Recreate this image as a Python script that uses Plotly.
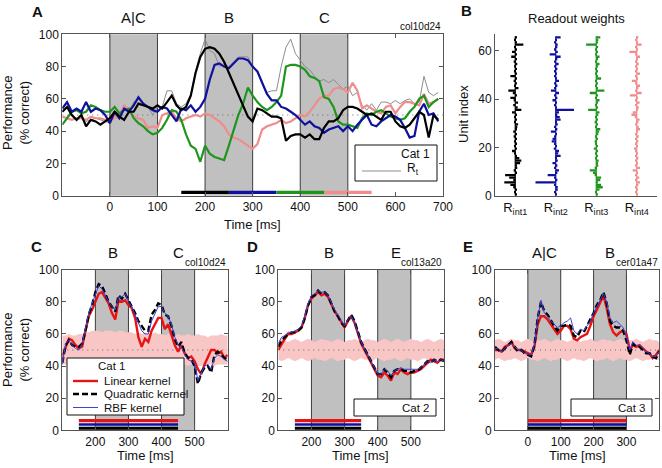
import plotly.graph_objects as go

W, H = 662, 468
FONT = "Liberation Sans, Arial, Helvetica, sans-serif"

def px(x):
    return x / W

def py(y):
    return 1 - y / H

# ---------------- Panel A data (time in ms, performance in % correct) ----------------
time_a = list(range(-100, 700, 10))
perf_rint1 = [52, 55, 50, 47, 50, 43, 47, 46, 44, 46,
              48, 52, 49, 47, 52, 52, 57, 56, 55, 54,
              56, 54, 58, 62, 56, 53, 55, 62, 76, 86,
              91, 92, 91, 88, 83, 76, 70, 62, 56, 49,
              46, 54, 53, 51, 49, 49, 48, 34, 37, 38,
              38, 36, 38, 35, 35, 42, 46, 46, 48, 53,
              55, 55, 54, 52, 50, 51, 49, 47, 52, 52,
              46, 43, 42, 44, 48, 52, 50, 36, 50, 47]
perf_rint2 = [54, 58, 52, 54, 52, 58, 52, 54, 53, 50,
              45, 52, 48, 54, 52, 56, 61, 57, 55, 53,
              52, 55, 54, 50, 46, 54, 53, 56, 52, 55,
              60, 72, 81, 82, 80, 79, 82, 85, 85, 84,
              80, 77, 70, 63, 59, 59, 55, 54, 52, 50,
              47, 44, 46, 43, 42, 39, 41, 42, 43, 40,
              43, 40, 44, 47, 50, 44, 43, 46, 48, 50,
              49, 47, 42, 36, 37, 52, 57, 50, 51, 46]
perf_rint3 = [44, 48, 52, 53, 51, 52, 56, 55, 53, 52,
              52, 55, 51, 53, 54, 48, 45, 43, 40, 38,
              39, 42, 47, 53, 52, 47, 38, 31, 29, 21,
              31, 26, 24, 23, 22, 31, 41, 50, 57, 67,
              62, 58, 55, 53, 55, 58, 62, 80, 81, 81,
              80, 78, 74, 73, 71, 61, 60, 55, 46, 44,
              44, 43, 42, 48, 51, 50, 52, 53, 51, 49,
              48, 47, 48, 52, 55, 60, 62, 55, 58, 60]
perf_rint4 = [49, 48, 47, 48, 48, 47, 49, 48, 48, 47,
              47, 48, 50, 56, 53, 49, 48, 47, 42, 43,
              42, 50, 51, 52, 48, 46, 48, 49, 50, 49,
              51, 50, 48, 46, 43, 38, 36, 35, 33, 31,
              29, 32, 41, 43, 44, 45, 47, 45, 46, 48,
              50, 49, 52, 56, 60, 62, 62, 66, 67, 66,
              64, 70, 65, 54, 56, 54, 52, 51, 55, 56,
              51, 55, 58, 58, 57, 56, 63, 57, 58, 60]
perf_rt = [52, 55, 50, 47, 48, 46, 47, 48, 47, 46,
           45, 50, 47, 54, 52, 58, 60, 58, 55, 50,
           55, 55, 65, 65, 57, 55, 57, 63, 77, 88,
           97, 90, 88, 80, 82, 80, 83, 86, 86, 86,
           80, 76, 70, 64, 65, 65, 80, 92, 97, 88,
           84, 80, 78, 74, 71, 72, 70, 72, 69, 66,
           68, 62, 64, 56, 53, 57, 53, 58, 58, 57,
           59, 57, 59, 60, 57, 58, 74, 64, 62, 64]
train_windows_a = [150, 250, 350, 450, 550]
stim_a = ["A|C", "B", "C"]
stim_a_pos = [50, 250, 450]
shade_a = [[0, 100], [200, 300], [400, 500]]
ticks_a = [0, 100, 200, 300, 400, 500, 600, 700]

# ---------------- Panel B data (readout weights per unit, in column units) ----------------
unit_index = list(range(1, 67))
w_int1 = [0.02, -0.03, 0.03, -0.05, -0.12, -0.27, -0.05, -0.15, -0.25, 0.03,
          -0.04, 0.05, 0.02, 0.12, 0.15, 0.10, 0.03, -0.03, -0.08, 0.02,
          -0.03, 0.04, -0.02, 0.03, -0.04, 0.02, -0.05, 0.03, 0.05, 0.07,
          -0.03, 0.03, -0.02, 0.04, -0.08, 0.15, 0.06, -0.05, 0.07, -0.04,
          -0.12, 0.03, -0.06, -0.17, 0.08, -0.03, 0.03, -0.04, 0.02, -0.12,
          0.03, -0.03, 0.04, -0.02, 0.05, -0.04, 0.03, -0.10, 0.04, -0.08,
          0.03, -0.03, 0.20, 0.04, -0.02, 0.02]
w_int2 = [0.02, -0.03, 0.05, 0.05, -0.02, -0.50, 0.04, -0.03, -0.20, 0.04,
          0.08, -0.03, 0.04, -0.08, 0.05, 0.03, 0.12, 0.06, 0.08, -0.05,
          0.03, -0.04, -0.10, -0.08, -0.03, 0.03, -0.12, 0.04, -0.03, 0.05,
          0.03, 0.12, 0.10, 0.04, 0.08, 0.45, 0.03, -0.04, 0.03, -0.08,
          0.04, -0.03, 0.08, -0.12, -0.03, 0.04, -0.03, 0.08, 0.03, -0.04,
          0.03, -0.03, 0.04, -0.02, 0.07, -0.03, 0.04, 0.12, -0.15, 0.05,
          -0.03, 0.04, 0.05, -0.03, 0.03, 0.12]
w_int3 = [0.02, -0.03, 0.08, 0.16, 0.12, 0.04, 0.10, 0.12, -0.04, -0.08,
          -0.16, -0.04, 0.05, 0.03, 0.06, -0.03, 0.04, -0.02, 0.03, -0.06,
          0.03, -0.02, -0.04, 0.03, -0.02, 0.05, 0.07, 0.10, -0.03, 0.04,
          -0.04, 0.03, -0.02, 0.05, 0.08, -0.20, 0.04, -0.03, 0.03, 0.08,
          -0.02, 0.04, -0.16, 0.20, 0.03, -0.03, 0.04, -0.02, 0.12, 0.03,
          -0.03, 0.04, -0.02, 0.03, 0.08, -0.03, 0.04, 0.08, -0.02, 0.03,
          -0.03, 0.04, -0.25, 0.03, 0.05, 0.10]
w_int4 = [0.02, -0.03, 0.03, -0.02, 0.04, 0.08, -0.03, 0.06, -0.02, 0.03,
          -0.10, 0.08, -0.04, 0.03, -0.02, 0.04, -0.03, 0.03, -0.04, -0.07,
          0.03, -0.02, 0.04, -0.03, 0.05, -0.04, 0.03, 0.08, 0.05, -0.03,
          0.04, 0.07, -0.05, -0.13, -0.10, 0.03, 0.05, -0.03, 0.07, -0.04,
          0.03, -0.17, 0.12, -0.03, 0.04, 0.08, -0.02, -0.12, 0.03, -0.04,
          0.08, -0.02, 0.03, -0.04, 0.05, -0.03, 0.03, 0.08, -0.04, -0.18,
          0.03, -0.03, 0.12, 0.03, -0.02, 0.04]
readout_labels = ["R<sub>int1</sub>", "R<sub>int2</sub>", "R<sub>int3</sub>", "R<sub>int4</sub>"]

# ---------------- Panel C data ----------------
time_c = list(range(100, 610, 10))
c_linear = [46, 52, 57, 56, 53, 51, 52, 62, 71, 75,
            80, 85, 86, 82, 79, 73, 69, 81, 80, 81,
            78, 76, 70, 58, 52, 57, 55, 62, 66, 70,
            70, 63, 66, 60, 53, 49, 53, 48, 45, 46,
            43, 38, 35, 41, 45, 50, 50, 48, 49, 45, 47]
c_quad = [42, 53, 56, 53, 52, 52, 54, 62, 72, 78,
          86, 91, 90, 85, 80, 77, 74, 84, 82, 85,
          81, 78, 73, 68, 65, 62, 62, 72, 75, 79,
          78, 72, 71, 65, 57, 52, 55, 48, 45, 44,
          40, 29, 36, 39, 40, 36, 47, 49, 47, 45, 44]
c_rbf = [41, 54, 56, 53, 51, 50, 54, 63, 73, 79,
         85, 90, 88, 84, 80, 77, 75, 83, 83, 85,
         80, 77, 72, 66, 62, 60, 60, 68, 73, 77,
         77, 73, 71, 66, 58, 53, 52, 47, 44, 43,
         42, 31, 35, 40, 41, 38, 45, 47, 46, 44, 43]
c_band_hi = [59, 59, 60, 59, 59, 60, 60, 61, 61, 62,
             62, 62, 61, 62, 62, 62, 61, 62, 62, 61,
             61, 61, 60, 61, 60, 61, 60, 60, 61, 60,
             60, 59, 60, 59, 59, 60, 59, 59, 60, 59,
             59, 60, 59, 59, 58, 59, 59, 59, 60, 59, 59]
c_band_lo = [41, 41, 40, 41, 41, 41, 40, 41, 41, 41,
             42, 41, 41, 41, 40, 41, 41, 41, 40, 41,
             41, 40, 41, 41, 40, 41, 42, 41, 41, 41,
             41, 42, 41, 41, 41, 42, 41, 41, 40, 41,
             41, 40, 40, 41, 41, 41, 40, 41, 41, 41, 41]
c_window = [150, 450]

# ---------------- Panel D data ----------------
time_d = list(range(100, 610, 10))
d_linear = [50, 54, 57, 60, 60, 61, 62, 64, 70, 78,
            82, 84, 86, 84, 85, 83, 78, 74, 71, 67,
            64, 68, 71, 67, 60, 54, 50, 46, 43, 38,
            34, 33, 36, 34, 31, 36, 35, 38, 36, 35,
            36, 36, 37, 38, 40, 42, 44, 43, 42, 44, 44]
d_quad = [52, 56, 58, 60, 61, 61, 62, 64, 70, 78,
          83, 84, 87, 85, 86, 84, 79, 74, 71, 67,
          65, 69, 72, 68, 61, 55, 51, 47, 44, 39,
          35, 35, 38, 36, 33, 37, 38, 38, 37, 37,
          36, 37, 37, 39, 41, 43, 42, 44, 43, 44, 43]
d_rbf = [54, 58, 59, 61, 61, 62, 63, 65, 71, 79,
         84, 85, 87, 86, 86, 84, 79, 75, 72, 68,
         65, 69, 71, 67, 61, 55, 51, 47, 44, 39,
         35, 35, 38, 37, 34, 37, 38, 39, 38, 38,
         38, 38, 38, 39, 41, 43, 42, 44, 43, 44, 43]
d_band_hi = [56, 57, 56, 55, 56, 57, 56, 55, 56, 57,
             56, 55, 56, 57, 56, 56, 55, 56, 57, 56,
             55, 56, 56, 57, 56, 55, 56, 57, 56, 56,
             55, 56, 57, 56, 55, 56, 57, 56, 55, 56,
             57, 56, 56, 55, 56, 57, 56, 55, 56, 57, 56]
d_band_lo = [44, 43, 44, 45, 44, 43, 44, 45, 44, 43,
             44, 45, 44, 44, 43, 44, 45, 44, 43, 44,
             44, 45, 44, 43, 44, 45, 44, 44, 43, 44,
             45, 44, 43, 44, 44, 45, 44, 43, 44, 45,
             44, 44, 43, 44, 45, 44, 43, 44, 44, 45, 44]
d_window = [150, 350]

# ---------------- Panel E data ----------------
time_e = list(range(-100, 410, 10))
e_linear = [50, 50, 49, 52, 53, 55, 51, 50, 50, 49,
            48, 47, 52, 66, 71, 71, 69, 66, 63, 60,
            62, 65, 65, 63, 57, 56, 58, 59, 60, 65,
            71, 75, 80, 84, 76, 66, 61, 59, 61, 62,
            60, 50, 53, 52, 53, 51, 49, 48, 45, 47, 50]
e_quad = [52, 50, 49, 51, 53, 55, 52, 49, 50, 48,
          47, 46, 53, 70, 80, 74, 72, 68, 65, 62,
          65, 65, 66, 65, 59, 58, 62, 61, 65, 68,
          73, 78, 81, 86, 79, 68, 65, 64, 64, 62,
          56, 47, 54, 52, 52, 50, 48, 48, 46, 45, 49]
e_rbf = [51, 51, 49, 51, 53, 54, 52, 50, 50, 48,
         47, 47, 53, 70, 81, 73, 71, 68, 66, 64,
         65, 67, 68, 70, 62, 60, 63, 62, 65, 68,
         73, 77, 82, 85, 80, 70, 67, 68, 66, 64,
         58, 50, 55, 53, 53, 51, 49, 48, 46, 46, 49]
e_band_hi = [56, 57, 56, 55, 56, 57, 56, 56, 55, 56,
             57, 56, 55, 56, 56, 57, 56, 55, 56, 57,
             56, 56, 55, 56, 57, 56, 55, 56, 56, 57,
             56, 55, 56, 57, 56, 56, 55, 56, 57, 56,
             55, 56, 56, 57, 56, 55, 56, 57, 56, 56, 55]
e_band_lo = [44, 45, 44, 43, 44, 44, 45, 44, 43, 44,
             45, 44, 44, 43, 44, 45, 44, 43, 44, 44,
             45, 44, 43, 44, 45, 44, 44, 43, 44, 45,
             44, 43, 44, 44, 45, 44, 43, 44, 45, 44,
             44, 43, 44, 45, 44, 43, 44, 44, 45, 44, 44]
e_window = [0, 300]

# ---------------- colours ----------------
BLACK = "#000000"
BLUE = "#1010a0"
GREEN = "#1e961e"
PINK = "#f08c8c"
GRAYRT = "#8c8c8c"
RED = "#e81414"
RBF = "#4040d8"
BAND = "#f9c6c6"
SHADE = "#c0c0c0"
AXC = "#555555"
VLINE = "#3c3c3c"
DOTS = dict(color="#666666", width=1, dash="1px,4px")

fig = go.Figure()

# ---- Panel A traces
fig.add_trace(go.Scatter(x=[time_a[0], time_a[-1] + 10], y=[50, 50], mode="lines",
                         line=DOTS, xaxis="x", yaxis="y"))
fig.add_trace(go.Scatter(x=time_a, y=perf_rt, mode="lines", line=dict(color=GRAYRT, width=1),
                         xaxis="x", yaxis="y"))
for series, col in [(perf_rint4, PINK), (perf_rint3, GREEN), (perf_rint2, BLUE), (perf_rint1, BLACK)]:
    fig.add_trace(go.Scatter(x=time_a, y=series, mode="lines", line=dict(color=col, width=2.2),
                             xaxis="x", yaxis="y"))
for i, col in enumerate([BLACK, BLUE, GREEN, PINK]):
    fig.add_trace(go.Scatter(x=[train_windows_a[i], train_windows_a[i + 1]], y=[2, 2], mode="lines",
                             line=dict(color=col, width=3.2), xaxis="x", yaxis="y"))

# ---- Panel B traces: horizontal bars around each readout's column centre
for k, (wts, col) in enumerate([(w_int1, BLACK), (w_int2, BLUE), (w_int3, GREEN), (w_int4, PINK)]):
    fig.add_trace(go.Scatter(x=[k + 1, k + 1], y=[0, len(wts)], mode="lines",
                             line=dict(color=col, width=1.2), xaxis="x2", yaxis="y2"))
    fig.add_trace(go.Bar(x=wts, y=[u - 0.5 for u in unit_index], base=k + 1, orientation="h", width=0.95,
                         marker=dict(color=col, line=dict(width=0)), xaxis="x2", yaxis="y2"))

# ---- Panels C, D, E traces
panels = [
    ("x3", "y3", time_c, c_linear, c_quad, c_rbf, c_band_hi, c_band_lo, c_window),
    ("x4", "y4", time_d, d_linear, d_quad, d_rbf, d_band_hi, d_band_lo, d_window),
    ("x5", "y5", time_e, e_linear, e_quad, e_rbf, e_band_hi, e_band_lo, e_window),
]
for xa, ya, t, lin, quad, rbf, hi, lo, win in panels:
    fig.add_trace(go.Scatter(x=t, y=lo, mode="lines", line=dict(width=0, color=BAND),
                             xaxis=xa, yaxis=ya))
    fig.add_trace(go.Scatter(x=t, y=hi, mode="lines", line=dict(width=0, color=BAND),
                             fill="tonexty", fillcolor=BAND, xaxis=xa, yaxis=ya))
    fig.add_trace(go.Scatter(x=[t[0], t[-1]], y=[50, 50], mode="lines",
                             line=DOTS, xaxis=xa, yaxis=ya))
    fig.add_trace(go.Scatter(x=t, y=lin, mode="lines", line=dict(color=RED, width=2.4),
                             xaxis=xa, yaxis=ya))
    fig.add_trace(go.Scatter(x=t, y=quad, mode="lines", line=dict(color=BLACK, width=2.4, dash="6px,3px"),
                             xaxis=xa, yaxis=ya))
    fig.add_trace(go.Scatter(x=t, y=rbf, mode="lines", line=dict(color=RBF, width=1),
                             xaxis=xa, yaxis=ya))
    for yv, col, wd in [(6, RED, 3.4), (3.6, BLUE, 2.6), (1.3, BLACK, 3.0)]:
        fig.add_trace(go.Scatter(x=win, y=[yv, yv], mode="lines", line=dict(color=col, width=wd),
                                 xaxis=xa, yaxis=ya))

fig.update_traces(hoverinfo="skip", showlegend=False)

# ---- shapes: shading and vertical separators
shapes = []
def shade(xref, yref, intervals, lines):
    for a, b in intervals:
        shapes.append(dict(type="rect", xref=xref, yref=yref + " domain", x0=a, x1=b, y0=0, y1=1,
                           fillcolor=SHADE, line=dict(width=0), layer="below"))
    for v in lines:
        shapes.append(dict(type="line", xref=xref, yref=yref + " domain", x0=v, x1=v, y0=0, y1=1,
                           line=dict(color=VLINE, width=1), layer="below"))

shade("x", "y", shade_a, [0, 100, 200, 300, 400, 500])
shade("x3", "y3", [[200, 300], [400, 500]], [200, 300, 400, 500])
shade("x4", "y4", [[200, 300], [400, 500]], [200, 300, 400, 500])
shade("x5", "y5", [[0, 100], [200, 300]], [0, 100, 200, 300])

# legend boxes (drawn above data)
def pbox(x0, y0, x1, y1):
    shapes.append(dict(type="rect", xref="paper", yref="paper", x0=px(x0), x1=px(x1), y0=py(y1), y1=py(y0),
                       fillcolor="white", line=dict(color="#111111", width=1), layer="above"))

def pline(x0, x1, y, col, wd, dash="solid"):
    shapes.append(dict(type="line", xref="paper", yref="paper", x0=px(x0), x1=px(x1), y0=py(y), y1=py(y),
                       line=dict(color=col, width=wd, dash=dash), layer="above"))

pbox(355, 145, 437, 181)
pline(362, 401, 171, GRAYRT, 1)
pbox(67, 358, 184, 415)
pline(73, 98, 381, RED, 2.4)
pline(73, 98, 394, BLACK, 2.4, "6px,3px")
pline(73, 98, 407.5, RBF, 1)
pbox(354, 399, 436, 416)
pbox(571, 399, 652, 416)

fig.update_layout(shapes=shapes)

# ---- annotations
ann = []
def text(x, y, s, size=12, xanchor="center", bold=False, angle=0):
    ann.append(dict(x=px(x), y=py(y), xref="paper", yref="paper", text=("<b>%s</b>" % s) if bold else s,
                    showarrow=False, xanchor=xanchor, yanchor="middle", textangle=angle,
                    font=dict(family=FONT, size=size, color="#111111")))

# panel letters
text(37, 11, "A", 15, bold=True)
text(467, 10, "B", 15, bold=True)
text(36, 246, "C", 15, bold=True)
text(252, 246, "D", 15, bold=True)
text(468, 246, "E", 15, bold=True)
# stimulus labels
for s, t in zip(stim_a, stim_a_pos):
    text(110 + 0.476 * t, 18, s, 15)
text(112.7, 253, "B", 15)
text(178, 253, "C", 15)
text(329, 253, "B", 15)
text(396, 253, "E", 15)
text(544, 253, "A|C", 15)
text(610, 253, "B", 15)
# recording ids
text(443, 26, "col10d24", 10, xanchor="right")
text(228, 262, "col10d24", 10, xanchor="right")
text(444, 262, "col13a20", 10, xanchor="right")
text(660, 262, "cer01a47", 10, xanchor="right")
# titles
text(576, 19, "Readout weights", 13)
text(16, 113, "Performance<br>(% correct)", 13, angle=-90)
text(16, 350, "Performance<br>(% correct)", 13, angle=-90)
text(463, 114, "Unit index", 13, angle=-90)
text(252, 224, "Time [ms]", 13)
text(145, 455, "Time [ms]", 13)
text(361, 455, "Time [ms]", 13)
text(577, 455, "Time [ms]", 13)
# legends
text(432, 154, "Cat 1", 12, xanchor="right")
text(405, 169, "R<sub>t</sub>", 12, xanchor="left")
text(112, 366, "Cat 1", 11.5)
text(102, 381, "Linear kernel", 11.5, xanchor="left")
text(102, 394, "Quadratic kernel", 11.5, xanchor="left")
text(102, 407.5, "RBF kernel", 11.5, xanchor="left")
text(432, 407.5, "Cat 2", 11.5, xanchor="right")
text(648, 407.5, "Cat 3", 11.5, xanchor="right")

fig.update_layout(annotations=ann)

# ---- axes
tickfont = dict(family=FONT, size=12, color="#111111")
def xax(dom, rng, tickvals, anchor):
    return dict(domain=[px(dom[0]), px(dom[1])], range=rng, tickvals=tickvals, ticks="inside", ticklen=4,
                tickcolor=AXC, showline=True, linecolor=AXC, linewidth=1, mirror="ticks", showgrid=False,
                zeroline=False, tickfont=tickfont, anchor=anchor, fixedrange=True, automargin=False)

def yax(dom, rng, tickvals, anchor):
    return dict(domain=[py(dom[1]), py(dom[0])], range=rng, tickvals=tickvals, ticks="inside", ticklen=4,
                tickcolor=AXC, showline=True, linecolor=AXC, linewidth=1, mirror="ticks", showgrid=False,
                zeroline=False, tickfont=tickfont, anchor=anchor, fixedrange=True, automargin=False)

yt = [0, 20, 40, 60, 80, 100]
fig.update_layout(
    xaxis=xax((62.3, 443), [-100, 700], ticks_a, "y"),
    yaxis=yax((34.3, 195.7), [0, 100], yt, "x"),
    xaxis2=dict(domain=[px(495), px(657)], range=[0.5, 4.5], tickvals=[1, 2, 3, 4], ticktext=readout_labels,
                ticks="", showline=True, linecolor=AXC, mirror=False, showgrid=False, zeroline=False,
                tickfont=dict(family=FONT, size=13, color="#111111"), anchor="y2", fixedrange=True,
                automargin=False),
    yaxis2=dict(domain=[py(195.7), py(34.3)], range=[0, 66.8], tickvals=[0, 20, 40, 60], ticks="inside",
                ticklen=4, tickcolor=AXC, showline=True, linecolor=AXC, mirror=False, showgrid=False,
                zeroline=False, tickfont=tickfont, anchor="x2", fixedrange=True, automargin=False),
    xaxis3=xax((62.3, 227.7), [100, 600], [200, 300, 400, 500], "y3"),
    yaxis3=yax((269.7, 430.3), [0, 100], yt, "x3"),
    xaxis4=xax((278.3, 444), [100, 600], [200, 300, 400, 500], "y4"),
    yaxis4=yax((269.7, 430.3), [0, 100], yt, "x4"),
    xaxis5=xax((495, 659.3), [-100, 400], [0, 100, 200, 300], "y5"),
    yaxis5=yax((269.7, 430.3), [0, 100], yt, "x5"),
    barmode="overlay",
    width=W, height=H, autosize=False,
    margin=dict(l=0, r=0, t=0, b=0),
    paper_bgcolor="white", plot_bgcolor="white",
    showlegend=False,
    font=dict(family=FONT, size=12, color="#111111"),
)

fig.write_html("out.html", config={"displayModeBar": False},
               post_script="document.body.style.margin='0';document.body.style.overflow='hidden';")
